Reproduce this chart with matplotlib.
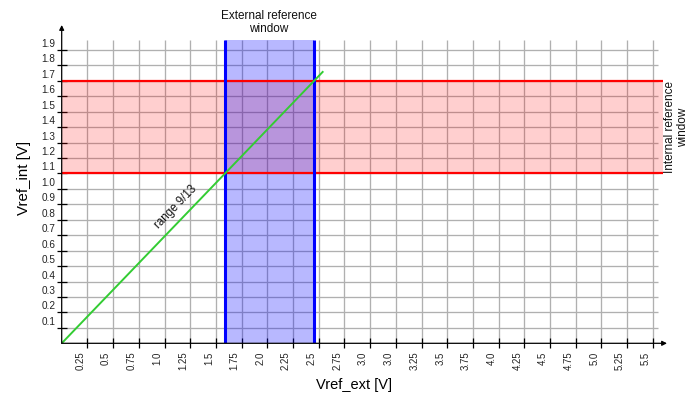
import matplotlib
matplotlib.use("Agg")
import matplotlib.pyplot as plt
from matplotlib.transforms import ScaledTranslation

plt.rcParams['font.family'] = ['Liberation Sans', 'DejaVu Sans']

# ---- data ----
x_ticks = [0.25, 0.5, 0.75, 1.0, 1.25, 1.5, 1.75, 2.0, 2.25, 2.5, 2.75, 3.0,
           3.25, 3.5, 3.75, 4.0, 4.25, 4.5, 4.75, 5.0, 5.25, 5.5, 5.75]
x_tick_labels = ["0.25", "0.5", "0.75", "1.0", "1.25", "1.5", "1.75", "2.0", "2.25",
                 "2.5", "2.75", "3.0", "3.0", "3.25", "3.5", "3.75", "4.0", "4.25",
                 "4.5", "4.75", "5.0", "5.25", "5.5"]
y_ticks = [0.1, 0.2, 0.3, 0.4, 0.5, 0.6, 0.7, 0.8, 0.9, 1.0,
           1.1, 1.2, 1.3, 1.4, 1.5, 1.6, 1.7, 1.8, 1.9]
y_tick_labels = ["0.1", "0.2", "0.3", "0.4", "0.5", "0.6", "0.7", "0.8", "0.9", "1.0",
                 "1.1", "1.2", "1.3", "1.4", "1.5", "1.6", "1.7", "1.8", "1.9"]
ext_window = [1.59, 2.455]      # external reference window (x)
int_window = [1.1, 1.7]         # internal reference window (y)
green_x = [0.0, 2.545]          # "range 9/13" line
green_y = [0.0, 1.762]

# ---- figure ----
W, H = 697, 398
fig = plt.figure(figsize=(W / 100, H / 100), dpi=100)
x0, y0 = 61.7, 343.3            # origin in pixels (from top-left)
xr, yt = 667.0, 25.0
ax = fig.add_axes([x0 / W, (H - y0) / H, (xr - x0) / W, (y0 - yt) / H])
px_per_x = 102.8
px_per_y = 154.4
ax.set_xlim(0, (xr - x0) / px_per_x)
ax.set_ylim(0, (y0 - yt) / px_per_y)
for s in ax.spines.values():
    s.set_visible(False)

grid_top = (y0 - 40) / px_per_y
grid_right = (658 - x0) / px_per_x
red_right = (663 - x0) / px_per_x
gcol = '#b0b0b0'

ax.vlines(x_ticks, 0, grid_top, color=gcol, lw=0.95, zorder=1)
ax.hlines(y_ticks, 0, grid_right, color=gcol, lw=0.95, zorder=1)

# internal window band
ax.fill_between([0, red_right], int_window[0], int_window[1], color=(1, 0, 0),
                alpha=0.19, lw=0, zorder=2)
# external window band
ax.fill_between(ext_window, 0, grid_top, color=(0, 0, 1), alpha=0.28, lw=0, zorder=3)
ax.hlines(int_window, 0, red_right, color='#ff0000', lw=1.6, zorder=4)
ax.vlines(ext_window, 0, grid_top, color='#0000ff', lw=2.2, zorder=5)

ax.plot(green_x, green_y, color='#33cc33', lw=1.4, zorder=6, solid_capstyle='butt')

# axes arrows
ap = dict(arrowstyle='-|>', lw=0.9, color='black', mutation_scale=7,
          shrinkA=0, shrinkB=0)
ax.annotate('', xy=(1, 0), xytext=(0, 0), xycoords='axes fraction', arrowprops=ap,
            annotation_clip=False, zorder=7)
ax.annotate('', xy=(0, 1), xytext=(0, 0), xycoords='axes fraction', arrowprops=ap,
            annotation_clip=False, zorder=7)

# ticks
ax.set_xticks(x_ticks)
ax.set_xticklabels(x_tick_labels, rotation=90, fontsize=6.9, color='#222222')
ax.set_yticks(y_ticks)
ax.set_yticklabels(y_tick_labels, fontsize=7.2, color='#222222')
ax.tick_params(axis='x', direction='inout', length=6.5, width=0.9, color='black', pad=2.8)
ax.tick_params(axis='y', direction='inout', length=6.5, width=0.9, color='black', pad=1.4)
for lab in ax.get_xticklabels():
    lab.set_transform(lab.get_transform() + ScaledTranslation(-0.07, 0, fig.dpi_scale_trans))
for lab in ax.get_yticklabels():
    lab.set_transform(lab.get_transform() + ScaledTranslation(0, 0.07, fig.dpi_scale_trans))

# texts
ax.text(1.112, 0.883, 'range 9/13', rotation=46, rotation_mode='anchor',
        ha='center', va='center', fontsize=8.3, color='#111111', zorder=8)
fig.text(269 / W, 1 - 22.5 / H, 'External reference\nwindow', ha='center', va='center',
         fontsize=8.5, color='#111111', linespacing=1.1)
fig.text(676.5 / W, 1 - 127.4 / H, 'Internal reference\nwindow', ha='center', va='center',
         rotation=90, fontsize=8.5, color='#111111', linespacing=1.1)
fig.text(354 / W, 1 - 385 / H, 'Vref_ext [V]', ha='center', va='center', fontsize=10.5)
fig.text(24 / W, 1 - 178 / H, 'Vref_int [V]', ha='center', va='center', fontsize=10.8,
         rotation=90)

fig.savefig('out.png', dpi=100)
